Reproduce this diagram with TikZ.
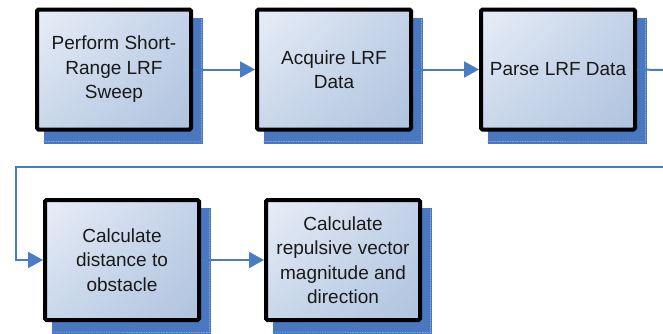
\documentclass[tikz,border=0pt]{standalone}
\usepackage{fontspec}
\setmainfont{Liberation Sans}
\usetikzlibrary{arrows.meta,backgrounds,shadings}
\definecolor{linkc}{HTML}{4A7CC4}
\definecolor{shadc}{HTML}{4A78C0}
\definecolor{shadln}{HTML}{A8BEE2}
\definecolor{gTL}{HTML}{E8EEF7}
\definecolor{gBR}{HTML}{AFC3DF}
\definecolor{gTR}{HTML}{C3D2E8}
\definecolor{gBL}{HTML}{C9D7EA}
\tikzset{
  stepbox/.style={draw=black, line width=4pt, rounded corners=1.5pt,
    minimum width=154pt, minimum height=120pt, inner sep=0pt,
    shade, upper left=gTL, lower right=gBR, upper right=gTR, lower left=gBL,
    font=\fontsize{19}{24.5}\selectfont, align=center, text=black!90},
  link/.style={draw=linkc, line width=2pt, -{Triangle[length=15pt,width=16pt]}},
  plainlink/.style={draw=linkc, line width=2pt},
  shad/.style={fill=shadc},
  shadedge/.style={draw=shadln, line width=0.5pt, dash pattern=on 1.5pt off 1pt}
}
\newcommand{\boxshadow}[1]{%
  \fill[shad] ([shift={(9,10)}]#1.north west) rectangle ([shift={(10,12)}]#1.south east);
  \draw[shadedge] ([shift={(8,10)}]#1.south west) -- ([shift={(8.5,10.5)}]#1.south east) -- ([shift={(8.5,11)}]#1.north east);
}
\begin{document}
\begin{tikzpicture}[x=1pt,y=-1pt]
\useasboundingbox (0,0) rectangle (663,333);
\node[stepbox] (a) at (114,69.5) {Perform Short-\\Range LRF\\Sweep};
\node[stepbox] (b) at (334,69.5) {Acquire LRF\\Data};
\node[stepbox] (c) at (558,69.5) {Parse LRF Data};
\node[stepbox] (d) at (122,260) {Calculate\\distance to\\obstacle};
\node[stepbox] (e) at (343,260) {Calculate\\repulsive vector\\magnitude and\\direction};
\coordinate (o1) at (663,70);
\coordinate (o2) at (663,167);
\coordinate (k1) at (16,167);
\coordinate (k2) at (16,260);
\begin{pgfonlayer}{background}
\boxshadow{a}
\boxshadow{b}
\boxshadow{c}
\boxshadow{d}
\boxshadow{e}
\end{pgfonlayer}
\draw[link] (a.east) -- (b.west);
\draw[link] (b.east) -- (c.west);
\draw[plainlink] (c.east) -- (o1);
\draw[link] (o2) -- (k1) -- (k2) -- (d.west);
\draw[link] (d.east) -- (e.west);
\end{tikzpicture}
\end{document}
